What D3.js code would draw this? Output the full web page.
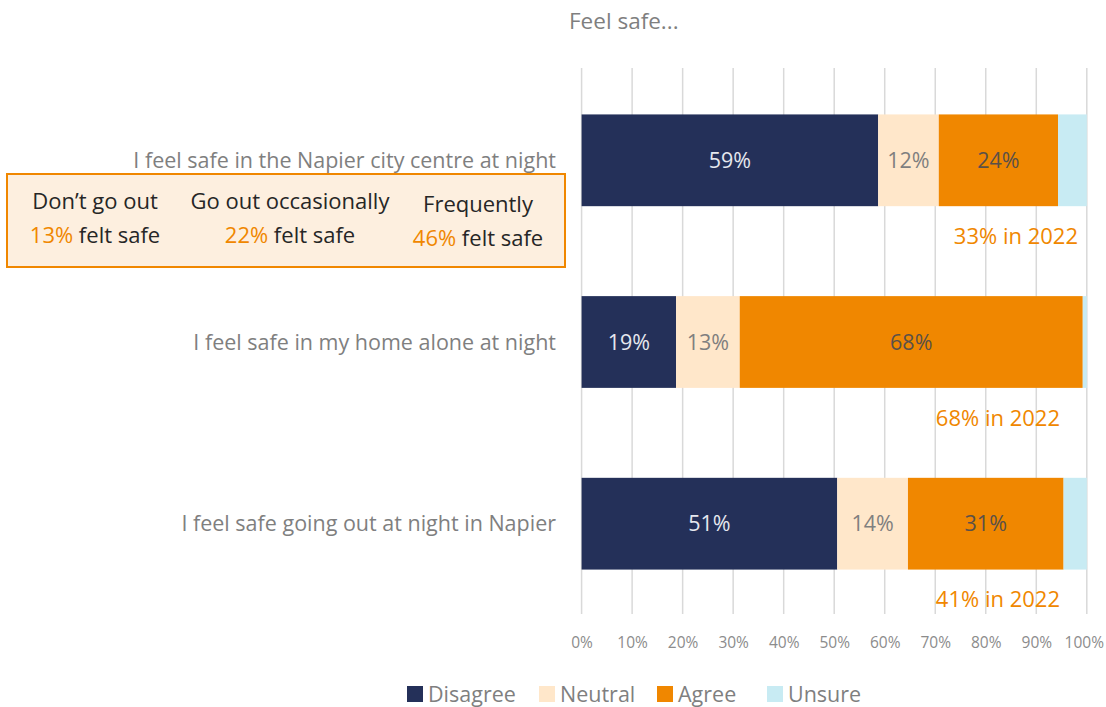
<!DOCTYPE html>
<html><head><meta charset="utf-8">
<script src="https://cdn.jsdelivr.net/npm/d3@7"></script>
<style>body{margin:0;background:#fff}svg{display:block}</style>
</head><body>
<svg id="c" width="1106" height="707"></svg>
<script>
const categories = ["I feel safe in the Napier city centre at night","I feel safe in my home alone at night","I feel safe going out at night in Napier"];
const seriesNames = ["Disagree","Neutral","Agree","Unsure"];
const disagree = [0.587, 0.187, 0.506];
const neutral  = [0.120, 0.126, 0.140];
const agree    = [0.236, 0.679, 0.308];
const unsure   = [0.057, 0.008, 0.046];
const prior2022 = ["33% in 2022","68% in 2022","41% in 2022"];
const boxHeads = ["Don\u2019t go out","Go out occasionally","Frequently"];
const boxPcts = ["13%","22%","46%"];
const tickValues = [0,0.1,0.2,0.3,0.4,0.5,0.6,0.7,0.8,0.9,1];
const title = "Feel safe...";

const colors = ["#243059","#FFE7CA","#F08700","#C8EBF3"];
const labelColors = ["#e6e8ef","#7f7f7f","#5a5048",null];
const FONT = "'Open Sans', sans-serif";

const svg = d3.select("#c");
const x = d3.scaleLinear().domain([0,1]).range([581.6,1086.8]);
const y = d3.scaleBand().domain(categories).range([69,615]).paddingInner(0.495).paddingOuter(0.25);

// gridlines
svg.append("g").selectAll("line").data(tickValues).join("line")
  .attr("x1",d=>x(d)).attr("x2",d=>x(d)).attr("y1",68).attr("y2",614)
  .attr("stroke","#d9d9d9").attr("stroke-width",1.5);

// axis labels
const ax = svg.append("g").attr("transform","translate(0,643)")
  .call(d3.axisBottom(x).tickValues(tickValues).tickFormat(d3.format(".0%")).tickSize(0).tickPadding(0));
ax.select(".domain").remove();
ax.selectAll("text").attr("font-family",FONT).attr("font-size",15.5).attr("fill","#8c8c8c").attr("dy","0.32em")
  .attr("dx",d=>d===1?"-3":"0");

// stacked data
const rows = categories.map((c,i)=>({cat:c, Disagree:disagree[i], Neutral:neutral[i], Agree:agree[i], Unsure:unsure[i]}));
const stack = d3.stack().keys(seriesNames)(rows);

stack.forEach((s,si)=>{
  const g = svg.append("g");
  g.selectAll("rect").data(s).join("rect")
    .attr("x",d=>x(d[0])).attr("width",d=>x(d[1])-x(d[0]))
    .attr("y",d=>y(d.data.cat)).attr("height",y.bandwidth())
    .attr("fill",colors[si]);
  if(labelColors[si]){
    g.selectAll("text").data(s).join("text")
      .attr("x",d=>(x(d[0])+x(d[1]))/2).attr("y",d=>y(d.data.cat)+y.bandwidth()/2)
      .attr("dy","0.35em").attr("text-anchor","middle")
      .attr("font-family",FONT).attr("font-size",21.5).attr("fill",labelColors[si])
      .text(d=>d3.format(".0%")(d[1]-d[0]));
  }
});

// category labels
svg.append("g").selectAll("text").data(categories).join("text")
  .attr("x",556).attr("y",d=>y(d)+y.bandwidth()/2).attr("dy","0.35em")
  .attr("text-anchor","end").attr("font-family",FONT).attr("font-size",21.5).attr("fill","#7f7f7f")
  .text(d=>d);

// 2022 annotations
const annEnd = [1078,1060,1060];
svg.append("g").selectAll("text").data(prior2022).join("text")
  .attr("x",(d,i)=>annEnd[i]).attr("y",(d,i)=>y(categories[i])+y.bandwidth()+30).attr("dy","0.35em")
  .attr("text-anchor","end").attr("font-family",FONT).attr("font-size",22).attr("fill","#F08700")
  .text(d=>d);

// title
svg.append("text").attr("x",569).attr("y",21).attr("dy","0.35em")
  .attr("font-family",FONT).attr("font-size",22.5).attr("fill","#7f7f7f").text(title);

// callout box
svg.append("rect").attr("x",7).attr("y",174).attr("width",558).attr("height",93)
  .attr("fill","#FDEFDF").attr("stroke","#F08700").attr("stroke-width",2);
const boxCx = [95,290,478];
const boxDy = [0,0,3];
const bt = svg.append("g").selectAll("g").data(boxHeads).join("g");
bt.append("text").attr("x",(d,i)=>boxCx[i]).attr("y",(d,i)=>201+boxDy[i]).attr("dy","0.35em")
  .attr("text-anchor","middle").attr("font-family",FONT).attr("font-size",22).attr("fill","#262626")
  .text(d=>d);
const bp = bt.append("text").attr("x",(d,i)=>boxCx[i]).attr("y",(d,i)=>235+boxDy[i]).attr("dy","0.35em")
  .attr("text-anchor","middle").attr("font-family",FONT).attr("font-size",22).attr("fill","#262626");
bp.append("tspan").attr("fill","#F08700").text((d,i)=>boxPcts[i]);
bp.append("tspan").text(" felt safe");

// legend
const legX = [407,539,657,767];
const lg = svg.append("g").selectAll("g").data(seriesNames).join("g")
  .attr("transform",(d,i)=>`translate(${legX[i]},694)`);
lg.append("rect").attr("x",0).attr("y",-8).attr("width",16).attr("height",16).attr("fill",(d,i)=>colors[i]);
lg.append("text").attr("x",21).attr("y",0).attr("dy","0.35em")
  .attr("font-family",FONT).attr("font-size",21.5).attr("fill","#7f7f7f").text(d=>d);
</script>
</body></html>
